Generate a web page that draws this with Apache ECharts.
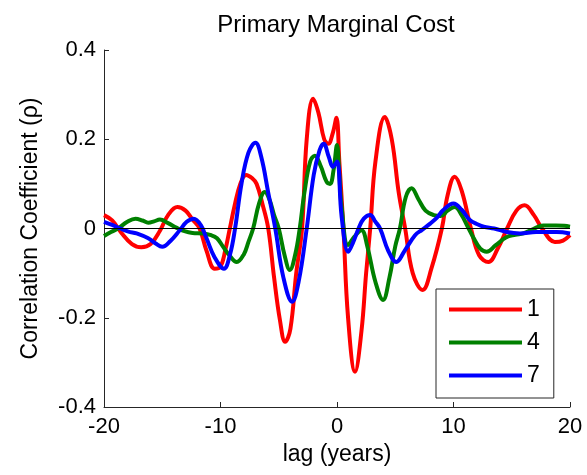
<!DOCTYPE html>
<html>
<head>
<meta charset="utf-8">
<script src="https://cdn.jsdelivr.net/npm/echarts@6/dist/echarts.min.js"></script>
<style>
html,body{margin:0;padding:0;background:#fff;}
#chart{width:587px;height:475px;}
</style>
</head>
<body>
<div id="chart"></div>
<script>
// lag (years) and correlation coefficient for each series
var redLag = [-20,-19.3,-18.5,-17.6,-16.8,-16.0,-15.2,-14.5,-13.7,-13.0,-12.4,-11.8,-11.2,-10.5,-10.0,-9.6,-9.2,-8.8,-8.3,-7.8,-7.3,-6.9,-6.4,-5.9,-5.4,-4.9,-4.45,-4.0,-3.5,-3.0,-2.6,-2.05,-1.6,-1.1,-0.75,-0.35,-0.05,0.2,0.55,0.95,1.55,2.1,2.5,2.85,3.3,4.1,4.7,5.3,5.85,6.5,7.35,8.1,9.0,9.5,10.1,10.7,11.5,12.2,13.0,13.8,14.6,15.4,16.1,16.9,17.6,18.7,19.4,20];
var redRho = [0.030,0.018,-0.010,-0.035,-0.042,-0.035,-0.005,0.030,0.048,0.040,0.020,0.000,-0.050,-0.090,-0.085,-0.050,0.000,0.050,0.100,0.120,0.113,0.100,0.055,0.000,-0.110,-0.205,-0.254,-0.225,-0.100,0.000,0.200,0.291,0.260,0.200,0.190,0.215,0.248,0.150,0.000,-0.200,-0.321,-0.230,-0.100,0.000,0.150,0.250,0.200,0.080,0.000,-0.100,-0.138,-0.090,0.000,0.075,0.116,0.085,0.000,-0.060,-0.075,-0.045,0.000,0.040,0.052,0.030,0.000,-0.030,-0.027,-0.015];

var greenLag = [-20,-19.4,-18.8,-18.0,-17.3,-16.7,-16.2,-15.7,-15.2,-14.5,-13.8,-13.3,-12.4,-11.5,-10.8,-10.3,-9.8,-9.3,-8.6,-8.0,-7.6,-7.2,-6.7,-6.2,-5.8,-5.4,-5.0,-4.5,-4.05,-3.6,-3.2,-2.8,-2.3,-1.9,-1.4,-0.9,-0.6,-0.3,0.0,0.2,0.4,0.95,1.5,2.1,2.6,3.3,3.95,4.5,5.0,5.4,5.9,6.4,7.0,7.6,8.3,8.9,9.5,10.1,10.7,11.2,11.7,12.3,12.85,13.6,14.5,15.3,16.0,16.8,17.7,18.8,19.5,20];
var greenRho = [-0.017,-0.008,0.000,0.015,0.022,0.018,0.013,0.016,0.020,0.012,0.002,-0.004,-0.010,-0.011,-0.015,-0.022,-0.040,-0.058,-0.075,-0.058,-0.030,0.000,0.055,0.082,0.065,0.030,0.000,-0.060,-0.093,-0.060,0.000,0.080,0.150,0.163,0.140,0.105,0.100,0.130,0.187,0.120,0.048,-0.037,-0.018,-0.004,-0.040,-0.120,-0.160,-0.110,-0.040,0.000,0.070,0.090,0.065,0.040,0.030,0.028,0.040,0.048,0.030,0.005,-0.020,-0.045,-0.052,-0.038,-0.020,-0.014,-0.011,-0.002,0.007,0.007,0.006,0.004];

var blueLag = [-20,-19.3,-18.6,-17.9,-17.2,-16.2,-15.6,-15.0,-14.3,-13.5,-12.9,-12.3,-11.7,-11.2,-10.5,-9.7,-9.2,-8.75,-8.2,-7.6,-7.0,-6.5,-5.9,-5.3,-4.6,-3.85,-3.3,-2.6,-2.0,-1.5,-1.15,-0.7,-0.35,0.0,0.4,0.97,1.4,1.85,2.3,2.85,3.3,3.7,4.4,5.1,5.8,6.7,7.3,8.0,8.6,9.1,10.0,10.7,11.4,12.0,12.6,13.5,14.6,15.7,17.1,18.85,20];
var blueRho = [0.015,0.008,0.000,-0.007,-0.011,-0.022,-0.033,-0.041,-0.028,-0.004,0.015,0.022,0.008,-0.022,-0.065,-0.090,-0.060,0.000,0.100,0.170,0.192,0.160,0.080,0.000,-0.110,-0.164,-0.120,0.000,0.120,0.175,0.190,0.160,0.138,0.150,0.026,-0.052,-0.030,0.000,0.022,0.030,0.015,0.000,-0.050,-0.075,-0.050,-0.015,-0.003,0.011,0.025,0.041,0.056,0.042,0.019,0.010,0.004,0.000,-0.008,-0.011,-0.008,-0.008,-0.011];

var seriesNames = ['1', '4', '7'];
var xTicks = [-20, -10, 0, 10, 20];
var yTicks = [-0.4, -0.2, 0, 0.2, 0.4];

function zip(a, b) { return a.map(function (v, i) { return [v, b[i]]; }); }

var FONT = '"Liberation Sans", Arial, sans-serif';
var AX = '#262626';

var chart = echarts.init(document.getElementById('chart'), null, {renderer: 'canvas'});
chart.setOption({
  animation: false,
  backgroundColor: '#fff',
  title: {
    text: 'Primary Marginal Cost',
    left: 331, top: 8, textAlign: 'center',
    textStyle: {fontFamily: FONT, fontSize: 24, fontWeight: 'normal', color: '#000'}
  },
  grid: {left: 104, right: 17, top: 50, bottom: 68, containLabel: false},
  legend: {
    orient: 'vertical',
    left: 436, top: 289,
    data: seriesNames,
    icon: 'rect',
    itemWidth: 73, itemHeight: 4, itemGap: 10,
    padding: [9, 14, 11, 13],
    borderColor: '#262626', borderWidth: 1, backgroundColor: '#fff',
    textStyle: {fontFamily: FONT, fontSize: 23, lineHeight: 23, color: '#000'}
  },
  xAxis: {
    type: 'value',
    min: xTicks[0], max: xTicks[xTicks.length - 1], interval: 10,
    name: 'lag (years)', nameLocation: 'middle', nameGap: 33,
    nameTextStyle: {fontFamily: FONT, fontSize: 23, color: '#000'},
    axisLine: {onZero: false, lineStyle: {color: AX, width: 1}},
    axisTick: {inside: true, length: 5, lineStyle: {color: AX}},
    axisLabel: {fontFamily: FONT, fontSize: 22, color: '#000', margin: 9},
    splitLine: {show: false}
  },
  yAxis: {
    type: 'value',
    min: yTicks[0], max: yTicks[yTicks.length - 1], interval: 0.2,
    name: 'Correlation Coefficient (\u03c1)', nameLocation: 'middle', nameGap: 62,
    nameTextStyle: {fontFamily: FONT, fontSize: 23, color: '#000'},
    axisLine: {show: true, onZero: false, lineStyle: {color: AX, width: 1}},
    axisTick: {show: true, inside: true, length: 5, lineStyle: {color: AX}},
    axisLabel: {fontFamily: FONT, fontSize: 22, color: '#000', margin: 8},
    splitLine: {show: false}
  },
  series: [
    {name: seriesNames[0], type: 'line', data: zip(redLag, redRho), smooth: 0.4, symbol: 'none',
     lineStyle: {color: '#ff0000', width: 4}, itemStyle: {color: '#ff0000'}, z: 2},
    {name: seriesNames[1], type: 'line', data: zip(greenLag, greenRho), smooth: 0.4, symbol: 'none',
     lineStyle: {color: '#008000', width: 4}, itemStyle: {color: '#008000'}, z: 3},
    {name: seriesNames[2], type: 'line', data: zip(blueLag, blueRho), smooth: 0.4, symbol: 'none',
     lineStyle: {color: '#0000ff', width: 4}, itemStyle: {color: '#0000ff'}, z: 4},
    {name: 'zero', type: 'line', data: [[xTicks[0], 0], [xTicks[xTicks.length - 1], 0]], symbol: 'none',
     lineStyle: {color: '#000', width: 1}, itemStyle: {color: '#000'}, z: 5, silent: true}
  ]
});
</script>
</body>
</html>
